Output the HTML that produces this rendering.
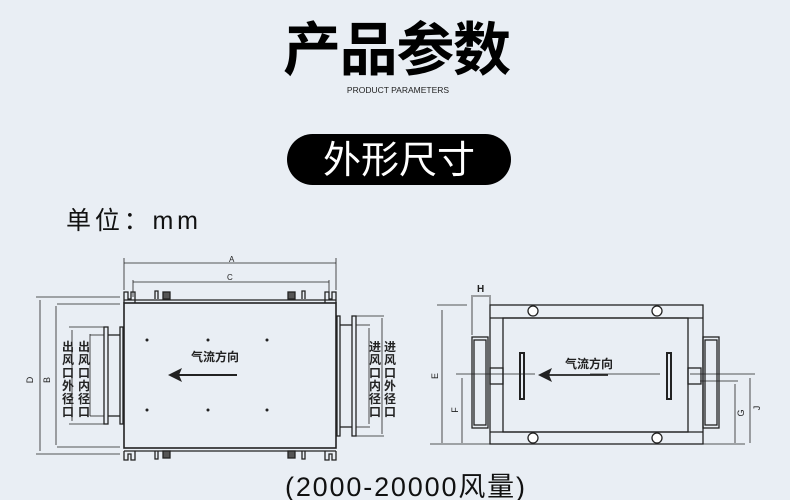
<!DOCTYPE html>
<html><head><meta charset="utf-8"><style>
html,body{margin:0;padding:0;background:#e9eef4;}
svg{display:block}
.cj{font-family:"Liberation Sans","Noto Sans CJK SC",sans-serif}
</style></head><body>
<svg width="790" height="500" viewBox="0 0 790 500" xmlns="http://www.w3.org/2000/svg" class="cj">
<rect width="790" height="500" fill="#e9eef4"/>
<text x="397" y="70" text-anchor="middle" font-size="58" font-weight="bold" fill="#000" textLength="228">产品参数</text>
<text x="398" y="93" text-anchor="middle" font-size="8.5" fill="#222">PRODUCT PARAMETERS</text>
<rect x="287" y="134" width="224" height="51" rx="25.5" fill="#000"/>
<text x="399" y="173" text-anchor="middle" font-size="38" fill="#fff" textLength="152">外形尺寸</text>
<text x="66" y="229" font-size="25" fill="#111" textLength="132">单位：mm</text>
<text x="405" y="496" text-anchor="middle" font-size="27" fill="#111" textLength="240">(2000-20000风量)</text>

<g stroke="#222" fill="none" stroke-width="1.3">
<rect x="124" y="303" width="212" height="145" stroke-width="1.6"/>
<line x1="124" y1="300" x2="336" y2="300"/>
<line x1="124" y1="451" x2="336" y2="451"/>
<path d="M124 303 V292 h4 v7 h3 v-7 h4 v11"/>
<path d="M325 303 V292 h4 v7 h3 v-7 h4 v11"/>
<path d="M155 299 v-8 h3 v8"/><path d="M302 299 v-8 h3 v8"/>
<rect x="163" y="292" width="7" height="7" fill="#555"/><rect x="288" y="292" width="7" height="7" fill="#555"/>
<path d="M124 451 V460 h4 v-6 h3 v6 h4 v-9"/>
<path d="M325 451 V460 h4 v-6 h3 v6 h4 v-9"/>
<path d="M155 451 v8 h3 v-8"/><path d="M302 451 v8 h3 v-8"/>
<rect x="163" y="451" width="7" height="7" fill="#555"/><rect x="288" y="451" width="7" height="7" fill="#555"/>
<rect x="104" y="327" width="4" height="97"/>
<rect x="120" y="327" width="3" height="97"/>
<line x1="108" y1="335" x2="120" y2="335"/><line x1="108" y1="416" x2="120" y2="416"/>
<rect x="337" y="316" width="3" height="120"/>
<rect x="352" y="316" width="4" height="120"/>
<line x1="340" y1="325" x2="352" y2="325"/><line x1="340" y1="427" x2="352" y2="427"/>
<line x1="124" y1="263" x2="336" y2="263" stroke-width="0.8"/>
<line x1="124" y1="258" x2="124" y2="290" stroke-width="0.8"/><line x1="336" y1="258" x2="336" y2="290" stroke-width="0.8"/>
<line x1="133" y1="282" x2="329" y2="282" stroke-width="0.8"/>
<line x1="133" y1="280" x2="133" y2="297" stroke-width="0.8"/><line x1="329" y1="280" x2="329" y2="297" stroke-width="0.8"/>
<g stroke-width="0.8">
<line x1="36" y1="297" x2="120" y2="297"/><line x1="36" y1="454" x2="120" y2="454"/>
<line x1="40" y1="300" x2="40" y2="451"/>
<line x1="57" y1="304" x2="120" y2="304"/><line x1="57" y1="447" x2="120" y2="447"/>
<line x1="56" y1="306" x2="56" y2="445"/>
<line x1="69" y1="327" x2="104" y2="327"/><line x1="69" y1="424" x2="104" y2="424"/>
<line x1="72" y1="330" x2="72" y2="421"/>
<line x1="90" y1="335" x2="104" y2="335"/><line x1="90" y1="416" x2="104" y2="416"/>
<line x1="90" y1="334" x2="90" y2="416"/>
<line x1="356" y1="316" x2="384" y2="316"/><line x1="356" y1="436" x2="384" y2="436"/>
<line x1="382" y1="318" x2="382" y2="434"/>
<line x1="356" y1="325" x2="370" y2="325"/><line x1="356" y1="427" x2="370" y2="427"/>
<line x1="369" y1="328" x2="369" y2="424"/>
</g>
<line x1="178" y1="375" x2="237" y2="375" stroke-width="2"/>
</g>
<path d="M168 375 L182 368 L179 375 L182 382 Z" fill="#222"/>
<g fill="#222">
<circle cx="147" cy="340" r="1.5"/><circle cx="208" cy="340" r="1.5"/><circle cx="267" cy="340" r="1.5"/>
<circle cx="147" cy="410" r="1.5"/><circle cx="208" cy="410" r="1.5"/><circle cx="267" cy="410" r="1.5"/>
</g>
<g font-size="11" fill="#222">
<text x="191" y="361" font-size="12" font-weight="bold">气流方向</text>
<text x="229" y="262" font-size="8">A</text>
<text x="227" y="280" font-size="8">C</text>
<text x="33" y="380" font-size="9" transform="rotate(-90 33 380)" text-anchor="middle">D</text>
<text x="50" y="380" font-size="9" transform="rotate(-90 50 380)" text-anchor="middle">B</text>
</g>
<g font-size="12" fill="#222" font-weight="bold">
<text x="62" y="351">出</text><text x="62" y="364">风</text><text x="62" y="377">口</text><text x="62" y="390">外</text><text x="62" y="403">径</text><text x="62" y="416">口</text>
<text x="78" y="351">出</text><text x="78" y="364">风</text><text x="78" y="377">口</text><text x="78" y="390">内</text><text x="78" y="403">径</text><text x="78" y="416">口</text>
<text x="369" y="351">进</text><text x="369" y="364">风</text><text x="369" y="377">口</text><text x="369" y="390">内</text><text x="369" y="403">径</text><text x="369" y="416">口</text>
<text x="384" y="351">进</text><text x="384" y="364">风</text><text x="384" y="377">口</text><text x="384" y="390">外</text><text x="384" y="403">径</text><text x="384" y="416">口</text>
</g>

<g stroke="#222" fill="none" stroke-width="1.3">
<rect x="490" y="305" width="213" height="139"/>
<line x1="490" y1="318" x2="703" y2="318"/><line x1="490" y1="432" x2="703" y2="432"/>
<rect x="503" y="318" width="185" height="114"/>
<circle cx="533" cy="311" r="5" fill="#fff"/><circle cx="657" cy="311" r="5" fill="#fff"/>
<circle cx="533" cy="438" r="5" fill="#fff"/><circle cx="657" cy="438" r="5" fill="#fff"/>
<rect x="472" y="337" width="16" height="91"/><rect x="474" y="340" width="12" height="85"/>
<rect x="703" y="337" width="16" height="91"/><rect x="705" y="340" width="12" height="85"/>
<rect x="490" y="368" width="13" height="16"/><rect x="688" y="368" width="13" height="16"/>
<rect x="520" y="353" width="4" height="46" stroke-width="2"/>
<rect x="667" y="353" width="4" height="46" stroke-width="2"/>
<g stroke-width="0.8">
<line x1="472" y1="295" x2="472" y2="335"/><line x1="490" y1="295" x2="490" y2="305"/>
<line x1="473" y1="296" x2="489" y2="296"/>
<line x1="437" y1="305" x2="467" y2="305"/>
<line x1="442" y1="310" x2="442" y2="443"/>
<line x1="430" y1="444" x2="745" y2="444"/>
<line x1="456" y1="374" x2="535" y2="374"/><line x1="590" y1="374" x2="660" y2="374"/><line x1="690" y1="374" x2="755" y2="374"/>
<line x1="462" y1="378" x2="462" y2="443"/>
<line x1="700" y1="381" x2="738" y2="381"/>
<line x1="735" y1="384" x2="735" y2="443"/>
<line x1="750" y1="378" x2="750" y2="443"/>
</g>
<line x1="545" y1="375" x2="608" y2="375" stroke-width="1.8"/>
</g>
<path d="M538 375 L552 368 L549 375 L552 382 Z" fill="#222"/>
<g fill="#222" font-size="9">
<text x="565" y="368" font-size="12" font-weight="bold">气流方向</text>
<text x="477" y="292" font-size="10" font-weight="bold">H</text>
<text x="438" y="376" transform="rotate(-90 438 376)" text-anchor="middle">E</text>
<text x="458" y="410" transform="rotate(-90 458 410)" text-anchor="middle">F</text>
<text x="744" y="413" transform="rotate(-90 744 413)" text-anchor="middle">G</text>
<text x="760" y="408" transform="rotate(-90 760 408)" text-anchor="middle">J</text>
</g>
</svg>
</body></html>
